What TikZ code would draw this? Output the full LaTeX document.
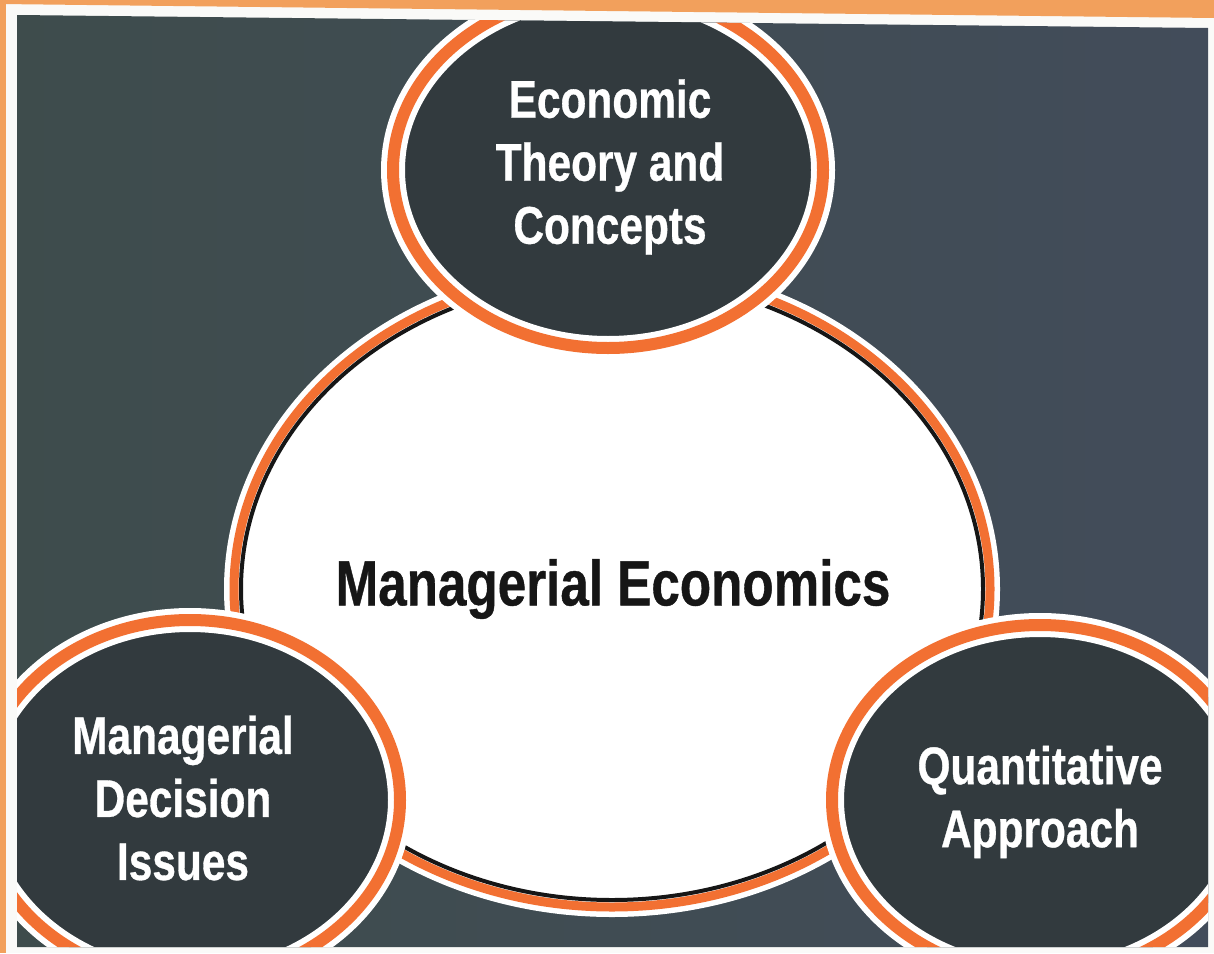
\documentclass[tikz,border=0pt]{standalone}
\usepackage{fontspec}
\newfontfamily\nb[FakeStretch=0.8,FakeBold=0.6]{Liberation Sans}
\usetikzlibrary{shapes.geometric}
\definecolor{pagewhite}{RGB}{250,250,248}
\definecolor{stripor}{RGB}{242,160,92}
\definecolor{panell}{RGB}{62,76,76}
\definecolor{panelr}{RGB}{66,76,90}
\definecolor{bubblec}{RGB}{50,58,62}
\definecolor{ringor}{RGB}{242,112,50}
\definecolor{inkc}{RGB}{22,22,22}
\begin{document}
\begin{tikzpicture}[x=1pt,y=-1pt,
  bubble/.style={ellipse, inner sep=0pt, fill=bubblec, draw=white, line width=6pt, double=ringor, double distance=12pt},
  lbl/.style={font=\nb\bfseries\fontsize{53}{63}\selectfont, text=white, align=center, inner sep=0pt},
  corelbl/.style={font=\nb\bfseries\fontsize{64}{70}\selectfont, text=inkc, inner sep=0pt}
 ]
\useasboundingbox (0,0) rectangle (1214,953);
\fill[pagewhite] (0,0) rectangle (1214,953);
\fill[stripor] (0,0) -- (1214,0) -- (1214,18) -- (0,4) -- cycle;
\fill[stripor] (0,0) rectangle (6,953);
\begin{scope}
  \clip (17,15) -- (1208,28) -- (1208,947) -- (17,947) -- cycle;
  \shade[left color=panell, right color=panelr] (0,0) rectangle (1214,953);
  \node[ellipse, inner sep=0pt, minimum width=756pt, minimum height=636pt,
        fill=white, draw=ringor, line width=9pt,
        preaction={draw=white, line width=20pt}] (core) at (612,589) {};
  \draw[inkc, line width=4pt] (core.center) ellipse [x radius=371, y radius=311];
  \node[bubble, minimum width=430pt, minimum height=356pt] (theory) at (608,170) {};
  \node[bubble, minimum width=420pt, minimum height=360pt] (decision) at (190,800) {};
  \node[bubble, minimum width=416pt, minimum height=350pt] (quant) at (1040,800) {};
\end{scope}
\node[corelbl] (coretxt) at (613,589) {Managerial Economics};
\node[lbl] (theorytxt) at (610,167) {Economic\\Theory and\\Concepts};
\node[lbl] (decisiontxt) at (183,798) {Managerial\\Decision\\Issues};
\node[lbl] (quanttxt) at (1040,802) {Quantitative\\Approach};
\end{tikzpicture}
\end{document}
